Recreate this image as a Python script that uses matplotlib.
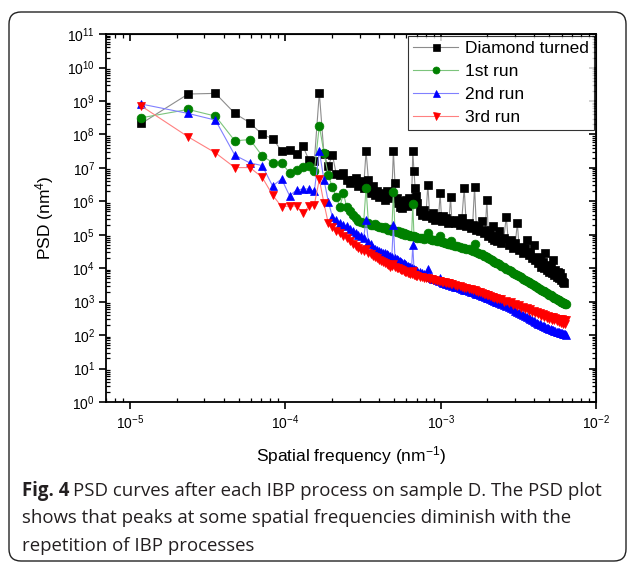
"""PSD curves after each IBP process on sample D (Fig. 4)."""

import matplotlib

matplotlib.use("Agg")
import matplotlib.pyplot as plt
import numpy as np
from matplotlib.patches import FancyBboxPatch
from matplotlib.ticker import LogLocator, NullFormatter

# spatial frequency = harmonic index * fundamental (nm^-1)
FUNDAMENTAL = 1.18e-5
harmonic = [
    1, 2, 3, 4, 5, 6, 7, 8, 9, 10, 11, 12, 13, 14, 15, 16, 17, 18, 19, 20,
    21, 22, 23, 24, 25, 26, 27, 28, 29, 30, 31, 32, 33, 34, 35, 36, 37, 38, 39, 40,
    41, 42, 43, 44, 45, 46, 47, 48, 49, 50, 51, 52, 53, 54, 55, 56, 57, 58, 59, 60,
    62, 64, 66, 68, 70, 72, 74, 76, 78, 80, 82, 84, 86, 88, 90, 92, 94, 96, 98, 100,
    104, 108, 112, 116, 120, 124, 128, 132, 136, 140, 144, 148, 152, 156, 160, 164,
    168, 172, 176, 180, 184, 188, 192, 196, 200,
    208, 216, 224, 232, 240, 248, 256, 264, 272, 280, 288, 296, 304, 312, 320, 328,
    336, 344, 352, 360, 368, 376, 384, 392, 400, 408, 416, 424, 432, 440, 448, 456,
    464, 472, 480, 488, 496, 504, 512, 520, 528, 536, 544,
]

# log10 of PSD (nm^4)
diamond_log = [
    8.33, 9.21, 9.23, 8.63, 8.35, 8.00, 7.88, 7.51, 7.53, 7.43,
    7.65, 7.23, 7.20, 9.25, 7.41, 7.05, 7.40, 6.81, 6.78, 6.85,
    6.64, 6.54, 6.64, 6.70, 6.45, 6.60, 6.40, 7.50, 6.64, 6.24,
    6.45, 6.19, 6.30, 6.14, 6.25, 6.20, 6.05, 6.30, 6.10, 6.15,
    6.20, 7.50, 6.55, 6.09, 5.95, 5.84, 6.00, 5.79, 5.95, 5.90,
    6.05, 5.85, 6.10, 5.95, 6.00, 7.50, 6.90, 6.40, 6.15, 5.95,
    5.70, 5.60, 5.75, 5.55, 6.49, 5.60, 5.50, 5.65, 5.45, 5.55,
    5.50, 6.24, 5.40, 5.55, 5.45, 5.50, 5.35, 5.45, 6.14, 5.40,
    5.35, 5.45, 5.30, 5.50, 6.39, 5.25, 5.35, 5.20, 5.30, 6.44,
    5.15, 5.25, 5.10, 5.40, 5.05, 5.15, 6.04, 4.95, 5.05, 4.90,
    5.25, 4.85, 4.95, 4.80, 5.10,
    4.75, 4.90, 5.54, 4.70, 4.85, 4.60, 4.75, 5.34, 4.55, 4.65,
    4.45, 4.60, 4.84, 4.40, 4.50, 4.30, 4.70, 4.25, 4.34, 4.15,
    4.30, 4.05, 4.20, 4.00, 4.45, 3.95, 4.10, 3.90, 4.05, 3.85,
    4.24, 3.80, 3.95, 3.75, 3.90, 3.70, 3.85, 3.65, 3.75, 3.60,
    3.55,
]
run1_log = [
    8.50, 8.75, 8.55, 7.81, 7.85, 7.36, 7.16, 7.16, 6.85, 6.95,
    7.02, 7.05, 6.90, 8.26, 7.45, 6.78, 6.42, 6.12, 5.84, 6.24,
    5.84, 5.70, 5.60, 5.50, 5.42, 5.38, 5.35, 6.40, 5.35, 5.30,
    5.28, 5.32, 5.25, 5.22, 5.24, 5.20, 5.22, 5.16, 5.14, 5.17,
    5.10, 6.29, 5.12, 5.08, 5.10, 5.05, 5.07, 5.02, 5.04, 5.00,
    5.02, 4.98, 5.00, 4.96, 4.97, 5.92, 4.95, 4.92, 4.94, 4.90,
    4.90, 4.91, 4.88, 4.89, 5.05, 4.86, 4.85, 4.84, 4.83, 4.82,
    4.80, 4.95, 4.78, 4.78, 4.76, 4.75, 4.74, 4.73, 4.80, 4.71,
    4.68, 4.67, 4.64, 4.62, 4.62, 4.58, 4.57, 4.54, 4.52, 4.72,
    4.48, 4.46, 4.43, 4.42, 4.38, 4.36, 4.33, 4.30, 4.28, 4.25,
    4.23, 4.20, 4.17, 4.15, 4.12,
    4.07, 4.03, 3.99, 3.95, 3.91, 3.87, 3.84, 3.80, 3.76, 3.73,
    3.69, 3.66, 3.63, 3.60, 3.56, 3.53, 3.50, 3.47, 3.44, 3.41,
    3.39, 3.36, 3.33, 3.31, 3.28, 3.26, 3.23, 3.21, 3.19, 3.16,
    3.14, 3.12, 3.10, 3.08, 3.06, 3.04, 3.02, 3.00, 2.98, 2.96,
    2.95, 2.93, 2.92,
]
run2_log = [
    8.91, 8.63, 8.43, 7.38, 7.15, 7.07, 6.46, 6.67, 6.17, 6.34,
    6.37, 6.37, 6.30, 7.50, 6.64, 5.99, 5.54, 5.45, 5.35, 5.30,
    5.25, 5.18, 5.12, 5.05, 5.00, 4.95, 4.90, 5.44, 4.78, 4.72,
    4.62, 4.58, 4.55, 4.52, 4.50, 4.47, 4.45, 4.42, 4.40, 4.36,
    4.34, 5.29, 4.30, 4.27, 4.25, 4.22, 4.20, 4.17, 4.15, 4.12,
    4.10, 4.08, 4.05, 4.03, 4.02, 4.69, 3.98, 3.96, 3.94, 3.92,
    3.88, 3.85, 3.82, 3.79, 3.98, 3.74, 3.72, 3.69, 3.67, 3.65,
    3.63, 3.70, 3.59, 3.57, 3.56, 3.54, 3.52, 3.51, 3.56, 3.48,
    3.45, 3.43, 3.41, 3.39, 3.36, 3.34, 3.32, 3.30, 3.28, 3.26,
    3.24, 3.22, 3.20, 3.18, 3.16, 3.14, 3.12, 3.10, 3.08, 3.06,
    3.04, 3.02, 3.00, 2.98, 2.96,
    2.93, 2.90, 2.87, 2.83, 2.80, 2.77, 2.73, 2.70, 2.67, 2.63,
    2.60, 2.57, 2.53, 2.50, 2.47, 2.44, 2.42, 2.39, 2.37, 2.34,
    2.32, 2.30, 2.28, 2.26, 2.24, 2.22, 2.20, 2.19, 2.17, 2.16,
    2.14, 2.13, 2.11, 2.10, 2.09, 2.08, 2.07, 2.06, 2.05, 2.04,
    2.03, 2.02, 2.01,
]
run3_log = [
    8.85, 7.93, 7.45, 7.01, 7.01, 6.72, 6.19, 5.84, 5.86, 5.86,
    5.64, 5.86, 5.90, 6.66, 5.94, 5.34, 5.22, 5.12, 5.04, 4.96,
    4.89, 4.80, 4.72, 4.66, 4.62, 4.56, 4.52, 4.58, 4.46, 4.42,
    4.38, 4.33, 4.30, 4.26, 4.22, 4.19, 4.15, 4.12, 4.09, 4.05,
    4.06, 4.12, 4.04, 4.02, 4.00, 3.98, 3.96, 3.94, 3.92, 3.90,
    3.88, 3.87, 3.85, 3.84, 3.82, 3.92, 3.80, 3.79, 3.78, 3.77,
    3.75, 3.74, 3.72, 3.71, 3.70, 3.68, 3.67, 3.66, 3.64, 3.63,
    3.62, 3.61, 3.60, 3.59, 3.58, 3.57, 3.56, 3.55, 3.54, 3.53,
    3.50, 3.48, 3.46, 3.44, 3.42, 3.41, 3.39, 3.37, 3.35, 3.34,
    3.32, 3.30, 3.28, 3.26, 3.24, 3.22, 3.21, 3.19, 3.17, 3.15,
    3.13, 3.12, 3.10, 3.09, 3.07,
    3.08, 3.00, 3.03, 2.95, 2.98, 2.90, 2.94, 2.86, 2.90, 2.82,
    2.85, 2.77, 2.81, 2.73, 2.77, 2.69, 2.73, 2.65, 2.70, 2.62,
    2.66, 2.58, 2.63, 2.55, 2.60, 2.52, 2.57, 2.49, 2.55, 2.46,
    2.53, 2.44, 2.51, 2.41, 2.49, 2.38, 2.48, 2.36, 2.47, 2.34,
    2.46, 2.32, 2.44,
]

series_labels = ["Diamond turned", "1st run", "2nd run", "3rd run"]

SANS = "Liberation Sans"
plt.rcParams["font.family"] = [SANS, "DejaVu Sans"]
plt.rcParams["mathtext.fontset"] = "custom"
plt.rcParams["mathtext.rm"] = SANS
plt.rcParams["mathtext.it"] = SANS + ":italic"
plt.rcParams["mathtext.bf"] = SANS + ":bold"

fig = plt.figure(figsize=(6.32, 5.65), dpi=100)
ax = fig.add_axes([0.168, 0.2885, 0.775, 0.651])

freq = FUNDAMENTAL * np.array(harmonic, dtype=float)
styles = [
    ("s", "black", "#8c8c8c"),
    ("o", "#008000", "#7cc47c"),
    ("^", "#0000ff", "#8080ff"),
    ("v", "#ff0000", "#ff8080"),
]
for vals, label, (marker, mcolor, lcolor) in zip(
    (diamond_log, run1_log, run2_log, run3_log), series_labels, styles
):
    n = len(vals)
    ax.plot(freq[:n], 10.0 ** np.array(vals), color=lcolor, lw=0.8,
            marker=marker, ms=6.3, mfc=mcolor, mec=mcolor, mew=0.5, label=label)

ax.set_xscale("log")
ax.set_yscale("log")
ax.set_xlim(7e-6, 1e-2)
ax.set_ylim(1.0, 1e11)

ax.xaxis.set_major_locator(LogLocator(base=10, numticks=20))
ax.yaxis.set_major_locator(LogLocator(base=10, numticks=20))
for axis in (ax.xaxis, ax.yaxis):
    axis.set_minor_locator(LogLocator(base=10, subs=np.arange(2, 10), numticks=200))
    axis.set_minor_formatter(NullFormatter())

ax.tick_params(which="major", direction="out", length=5, width=1.2,
               labelsize=10, pad=3)
ax.tick_params(which="minor", direction="in", length=3, width=0.9)
for sp in ax.spines.values():
    sp.set_linewidth(1.3)

# mirrored ticks on top and right, pointing inward
top = ax.secondary_xaxis("top")
right = ax.secondary_yaxis("right")
for sec, axis in ((top, top.xaxis), (right, right.yaxis)):
    axis.set_major_locator(LogLocator(base=10, numticks=20))
    axis.set_minor_locator(LogLocator(base=10, subs=np.arange(2, 10), numticks=200))
    axis.set_major_formatter(NullFormatter())
    axis.set_minor_formatter(NullFormatter())
    sec.tick_params(which="major", direction="in", length=5, width=1.2)
    sec.tick_params(which="minor", direction="in", length=3, width=0.9)

ax.set_xlabel("Spatial frequency (nm$^{-1}$)", fontsize=12.5, labelpad=9)
ax.set_ylabel("PSD (nm$^{4}$)", fontsize=12.5, labelpad=8)

leg = ax.legend(loc="upper right", fontsize=12.5, frameon=True, fancybox=False,
                borderaxespad=0.1, handlelength=2.6, handletextpad=0.4,
                labelspacing=0.45, borderpad=0.3, markerscale=0.8)
leg.get_frame().set_edgecolor("black")
leg.get_frame().set_linewidth(0.8)

# caption and surrounding box
box = FancyBboxPatch((0.09, 0.04), 6.17, 5.49,
                     boxstyle="round,pad=0,rounding_size=0.12",
                     transform=fig.dpi_scale_trans, fill=False,
                     ec="#222222", lw=1.0)
fig.patches.append(box)

CAP = ["Open Sans", "DejaVu Sans"]
cap_color = "#231f20"
cap_size = 13.4
x0 = 22 / 632
bold = fig.text(x0, 1 - 491 / 565, "Fig. 4", family=CAP, weight="bold",
                fontsize=cap_size, color=cap_color, va="center")
fig.canvas.draw()
bb = bold.get_window_extent(fig.canvas.get_renderer())
fig.text(bb.x1 / fig.bbox.width + 0.006, 1 - 491 / 565,
         "PSD curves after each IBP process on sample D. The PSD plot",
         family=CAP, fontsize=cap_size, color=cap_color, va="center")
fig.text(x0, 1 - 518 / 565,
         "shows that peaks at some spatial frequencies diminish with the",
         family=CAP, fontsize=cap_size, color=cap_color, va="center")
fig.text(x0, 1 - 546 / 565, "repetition of IBP processes",
         family=CAP, fontsize=cap_size, color=cap_color, va="center")

fig.savefig("out.png", dpi=100)
plt.close(fig)
